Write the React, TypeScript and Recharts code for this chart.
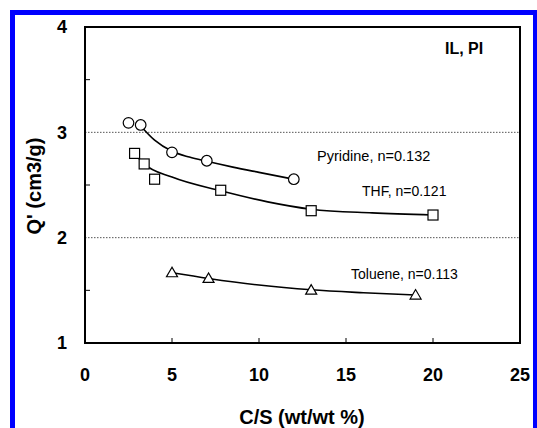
import React from 'react';
import { ComposedChart, XAxis, YAxis, Line, Scatter, ReferenceLine } from 'recharts';

// Measured points
const pyridinePts = [
  { x: 2.5, y: 3.09 }, { x: 3.2, y: 3.07 }, { x: 5.0, y: 2.81 }, { x: 7.0, y: 2.73 }, { x: 12.0, y: 2.555 },
];
const thfPts = [
  { x: 2.85, y: 2.80 }, { x: 3.4, y: 2.70 }, { x: 4.0, y: 2.555 }, { x: 7.8, y: 2.45 }, { x: 13.0, y: 2.256 }, { x: 20.0, y: 2.215 },
];
const toluenePts = [
  { x: 5.0, y: 1.667 }, { x: 7.1, y: 1.613 }, { x: 13.0, y: 1.502 }, { x: 19.0, y: 1.455 },
];

// Fitted curves
const pyridineFit = [
  { x: 3.2, y: 3.06 }, { x: 4.0, y: 2.925 }, { x: 5.0, y: 2.82 }, { x: 6.0, y: 2.765 }, { x: 7.0, y: 2.725 },
  { x: 8.5, y: 2.67 }, { x: 10.0, y: 2.62 }, { x: 12.0, y: 2.555 },
];
const thfFit = [
  { x: 2.85, y: 2.80 }, { x: 3.4, y: 2.70 }, { x: 5.0, y: 2.575 }, { x: 7.8, y: 2.445 }, { x: 10.5, y: 2.34 },
  { x: 13.0, y: 2.27 }, { x: 16.5, y: 2.235 }, { x: 20.0, y: 2.215 },
];
const tolueneFit = [
  { x: 5.0, y: 1.667 }, { x: 7.1, y: 1.613 }, { x: 10.0, y: 1.55 }, { x: 13.0, y: 1.505 }, { x: 16.0, y: 1.477 }, { x: 19.0, y: 1.455 },
];

// Plot frame (corners of the axis domain)
const frame = [
  { x: 0, y: 1 }, { x: 25, y: 1 }, { x: 25, y: 4 }, { x: 0, y: 4 }, { x: 0, y: 1 },
];

const xTicks = [0, 5, 10, 15, 20, 25];
const yTicks = [1, 1.5, 2, 2.5, 3, 3.5, 4];
const gridValues = [2, 3];

const FONT = '"Liberation Sans", Arial, sans-serif';
const TICK_SIZE = 6;
const Y_TM = 12;
const X_TM = 26;
const Y_OFF = TICK_SIZE + Y_TM;
const X_OFF = TICK_SIZE + X_TM;
const AXIS_LINE = { stroke: '#000', strokeWidth: 2 };

const renderYTick = (props: any) => {
  const { x, y, payload } = props;
  const v = payload.value;
  if (Number.isInteger(v)) {
    return (
      <text key={`yt${v}`} x={x} y={y} dy="0.36em" textAnchor="end" fontFamily={FONT} fontWeight="bold" fontSize={18} fill="#000">
        {v}
      </text>
    );
  }
  const ax = x + Y_OFF;
  return <line key={`yt${v}`} x1={ax} x2={ax + 5} y1={y} y2={y} stroke="#000" strokeWidth={1} />;
};

const renderXTick = (props: any) => {
  const { x, y, payload } = props;
  const v = payload.value;
  const ay = y - X_OFF;
  return (
    <g key={`xt${v}`}>
      {v > 0 && v < 25 ? <line x1={x} x2={x} y1={ay} y2={ay - 5} stroke="#000" strokeWidth={1} /> : null}
      <text x={x} y={y} dy="0.36em" textAnchor="middle" fontFamily={FONT} fontWeight="bold" fontSize={18} fill="#000">
        {v}
      </text>
    </g>
  );
};

const CircleShape = (p: any) => <circle cx={p.cx} cy={p.cy} r={5.3} fill="#fff" stroke="#000" strokeWidth={1.2} />;
const SquareShape = (p: any) => <rect x={p.cx - 5} y={p.cy - 5} width={10} height={10} fill="#fff" stroke="#000" strokeWidth={1.2} />;
const TriangleShape = (p: any) => (
  <polygon points={`${p.cx},${p.cy - 5.5} ${p.cx - 5.5},${p.cy + 4} ${p.cx + 5.5},${p.cy + 4}`} fill="#fff" stroke="#000" strokeWidth={1.2} />
);

const txt = (left: number, top: number, s: string, size: number, bold = false) => (
  <div style={{ position: 'absolute', left, top, fontFamily: FONT, fontSize: size, fontWeight: bold ? 'bold' : 'normal', lineHeight: 1, whiteSpace: 'nowrap', color: '#000', pointerEvents: 'none' }}>
    {s}
  </div>
);

export default function App() {
  return (
    <div style={{ position: 'absolute', left: 0, top: 0, width: 537, height: 428, background: '#fff' }}>
      <ComposedChart width={537} height={428} margin={{ top: 27, right: 17, bottom: 45, left: 25 }}>
        <XAxis type="number" dataKey="x" domain={[0, 25]} ticks={xTicks} height={40} tickSize={TICK_SIZE} tickMargin={X_TM}
          axisLine={AXIS_LINE} tickLine={false} tick={renderXTick} interval={0} />
        <YAxis type="number" dataKey="y" domain={[1, 4]} ticks={yTicks} width={60} tickSize={TICK_SIZE} tickMargin={Y_TM}
          axisLine={AXIS_LINE} tickLine={false} tick={renderYTick} interval={0} />
        {gridValues.map((g) => (
          <ReferenceLine key={`g${g}`} y={g} stroke="#555" strokeWidth={1} strokeDasharray="1.5 1.5" />
        ))}
        <Line data={frame} dataKey="y" type="linear" stroke="#000" strokeWidth={2} dot={false} isAnimationActive={false} />
        <Line data={pyridineFit} dataKey="y" type="monotone" stroke="#000" strokeWidth={1.6} dot={false} isAnimationActive={false} />
        <Line data={thfFit} dataKey="y" type="monotone" stroke="#000" strokeWidth={1.6} dot={false} isAnimationActive={false} />
        <Line data={tolueneFit} dataKey="y" type="monotone" stroke="#000" strokeWidth={1.6} dot={false} isAnimationActive={false} />
        <Scatter data={pyridinePts} dataKey="y" shape={CircleShape} isAnimationActive={false} />
        <Scatter data={thfPts} dataKey="y" shape={SquareShape} isAnimationActive={false} />
        <Scatter data={toluenePts} dataKey="y" shape={TriangleShape} isAnimationActive={false} />
      </ComposedChart>
      <div style={{ position: 'absolute', left: 84, top: 26, width: 437, height: 318, border: '2px solid #000', boxSizing: 'border-box', pointerEvents: 'none' }} />
      <div style={{ position: 'absolute', left: 10, top: 10, width: 527, height: 418, borderLeft: '5px solid #0000ff', borderTop: '5px solid #0000ff', borderRight: '4px solid #0000ff', boxSizing: 'border-box', pointerEvents: 'none' }} />
      {txt(445, 41, 'IL, PI', 16, true)}
      {txt(317, 149, 'Pyridine, n=0.132', 14.5)}
      {txt(362, 184, 'THF, n=0.121', 14)}
      {txt(351, 267, 'Toluene, n=0.113', 14)}
      <div style={{ position: 'absolute', left: 302, top: 417, transform: 'translate(-50%, -50%)', fontFamily: FONT, fontSize: 20, fontWeight: 'bold', whiteSpace: 'nowrap', lineHeight: 1 }}>
        C/S (wt/wt %)
      </div>
      <div style={{ position: 'absolute', left: 34, top: 186, transform: 'translate(-50%, -50%) rotate(-90deg)', fontFamily: FONT, fontSize: 20, fontWeight: 'bold', whiteSpace: 'nowrap', lineHeight: 1 }}>
        Q' (cm3/g)
      </div>
    </div>
  );
}
